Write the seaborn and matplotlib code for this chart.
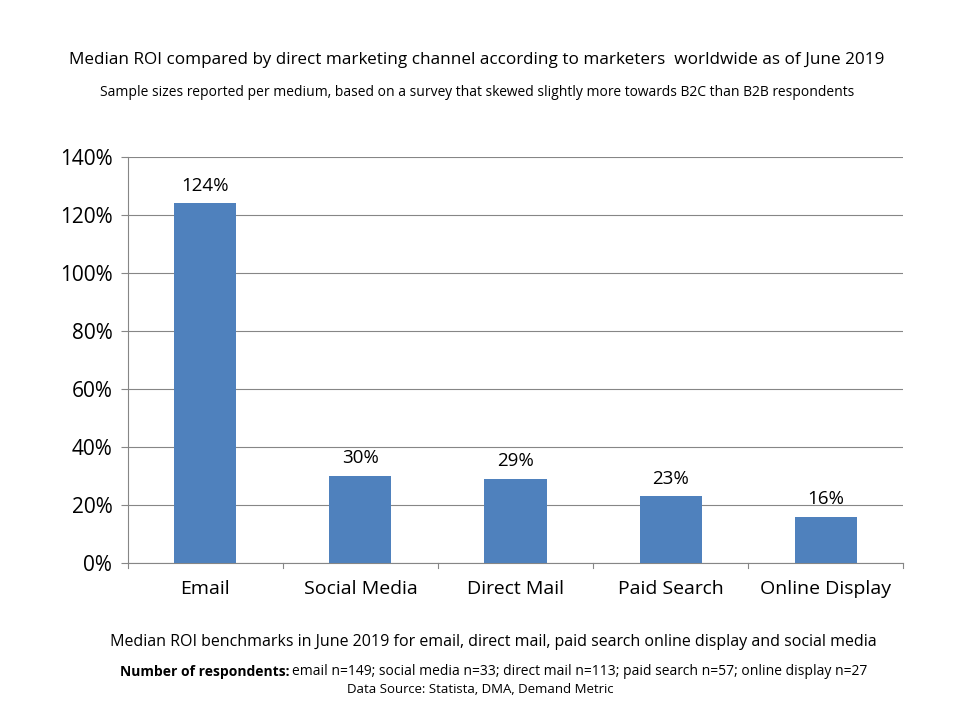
import matplotlib
matplotlib.use("Agg")
import matplotlib.pyplot as plt
import seaborn as sns
import pandas as pd

channels = ["Email", "Social Media", "Direct Mail", "Paid Search", "Online Display"]
roi = [124, 30, 29, 23, 16]

df = pd.DataFrame({"channel": channels, "roi": roi})

plt.rcParams["font.family"] = "Open Sans"
fig = plt.figure(figsize=(9.6, 7.2), dpi=100)
ax = fig.add_axes([0.133, 0.218, 0.808, 0.564])

sns.barplot(data=df, x="channel", y="roi", color="#4F81BD", saturation=1, width=0.4, ax=ax, zorder=3)

ax.set_ylim(0, 140)
ax.set_yticks(range(0, 141, 20))
ax.set_yticklabels([f"{v}%" for v in range(0, 141, 20)], fontsize=15)
ax.set_xlim(-0.5, 4.5)
ax.tick_params(axis="x", labelsize=14, length=0, pad=12)
ax.tick_params(axis="y", length=5, color="#868686", pad=6)
ax.set_xlabel("")
ax.set_ylabel("")
ax.grid(axis="y", color="#868686", linewidth=0.8, zorder=0)
for s in ["top", "right"]:
    ax.spines[s].set_visible(False)
for s in ["left", "bottom"]:
    ax.spines[s].set_color("#868686")

# boundary ticks on the category axis
for b in [-0.5, 0.5, 1.5, 2.5, 3.5, 4.5]:
    ax.plot([b, b], [0, -1.8], color="#868686", lw=0.8, clip_on=False)

for i, v in enumerate(roi):
    ax.text(i, v + 3, f"{v}%", ha="center", va="bottom", fontsize=13.5)

fig.text(0.497, 0.917, "Median ROI compared by direct marketing channel according to marketers  worldwide as of June 2019",
         ha="center", va="center", fontsize=12.3)
fig.text(0.497, 0.871, "Sample sizes reported per medium, based on a survey that skewed slightly more towards B2C than B2B respondents",
         ha="center", va="center", fontsize=10)
fig.text(0.514, 0.108, "Median ROI benchmarks in June 2019 for email, direct mail, paid search online display and social media",
         ha="center", va="center", fontsize=11.5)
fig.text(0.302, 0.067, "Number of respondents:", ha="right", va="center", fontsize=10, fontweight="bold")
fig.text(0.304, 0.067, "email n=149; social media n=33; direct mail n=113; paid search n=57; online display n=27",
         ha="left", va="center", fontsize=10)
fig.text(0.5, 0.042, "Data Source: Statista, DMA, Demand Metric", ha="center", va="center", fontsize=9.5)

fig.savefig("out.png", dpi=100)
